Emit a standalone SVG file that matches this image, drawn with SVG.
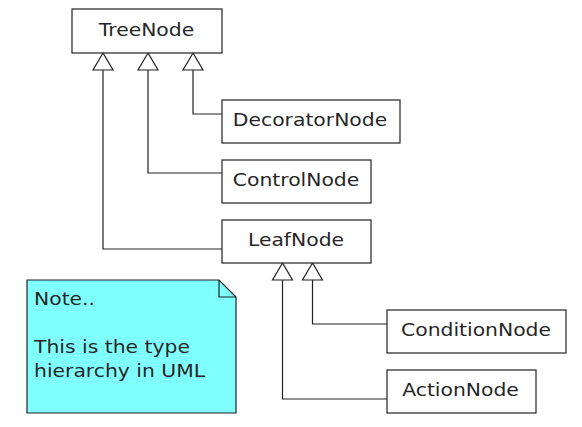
<svg xmlns="http://www.w3.org/2000/svg" width="582" height="427" viewBox="0 0 582 427">
<style>
.box{fill:#fff;stroke:#222;stroke-width:1.2}
.t{font-family:"DejaVu Sans",sans-serif;font-size:18px;fill:#262626}
.c{fill:none;stroke:#222;stroke-width:1.2}
.tri{fill:#fff;stroke:#222;stroke-width:1.2}
.note{fill:#80ffff;stroke:#222;stroke-width:1.2}
</style>
<rect width="582" height="427" fill="#fff"/>
<g id="connectors">
<polyline class="c" points="193,70 193,114 222,114"/>
<polyline class="c" points="148,70 148,173 222,173"/>
<polyline class="c" points="103,70 103,249 222,249"/>
<polyline class="c" points="312.5,280 312.5,324 387,324"/>
<polyline class="c" points="282.5,280 282.5,399 387,399"/>
<polygon class="tri" points="103,53 93,70 113,70"/>
<polygon class="tri" points="148,53 138,70 158,70"/>
<polygon class="tri" points="193,53 183,70 203,70"/>
<polygon class="tri" points="282.5,263 272.5,280 292.5,280"/>
<polygon class="tri" points="312.5,263 302.5,280 322.5,280"/>
</g>
<g id="TreeNode"><rect class="box" x="72" y="9" width="150" height="44"/><text class="t" transform="translate(146.5,36) scale(1.13,1)" text-anchor="middle">TreeNode</text></g>
<g id="DecoratorNode"><rect class="box" x="222" y="100" width="178" height="43"/><text class="t" transform="translate(310,126) scale(1.13,1)" text-anchor="middle">DecoratorNode</text></g>
<g id="ControlNode"><rect class="box" x="222" y="160" width="149" height="43"/><text class="t" transform="translate(296,186) scale(1.13,1)" text-anchor="middle">ControlNode</text></g>
<g id="LeafNode"><rect class="box" x="222" y="220" width="149" height="43"/><text class="t" transform="translate(296,246) scale(1.13,1)" text-anchor="middle">LeafNode</text></g>
<g id="ConditionNode"><rect class="box" x="387" y="310" width="179" height="43"/><text class="t" transform="translate(476,336) scale(1.13,1)" text-anchor="middle">ConditionNode</text></g>
<g id="ActionNode"><rect class="box" x="387" y="370" width="149" height="43"/><text class="t" transform="translate(460.5,396) scale(1.13,1)" text-anchor="middle">ActionNode</text></g>
<g id="Note">
<polygon class="note" points="27,280 219,280 236,297 236,413 27,413"/>
<polyline class="c" points="219,280 219,297 236,297"/>
<text class="t" transform="translate(34,305) scale(1.13,1)">Note..</text>
<text class="t" transform="translate(34,353) scale(1.13,1)">This is the type</text>
<text class="t" transform="translate(34,377) scale(1.13,1)">hierarchy in UML</text>
</g>
</svg>
